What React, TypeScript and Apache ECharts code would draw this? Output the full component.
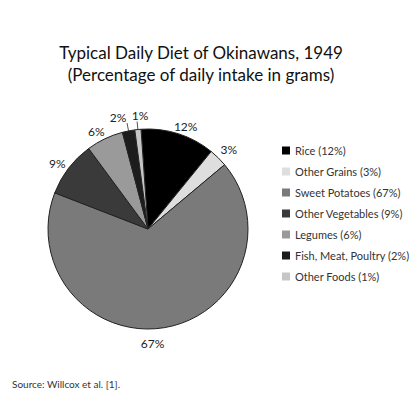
import React, { useEffect, useRef } from "react";
import * as echarts from "echarts";

const categories = [
  "Rice",
  "Other Grains",
  "Sweet Potatoes",
  "Other Vegetables",
  "Legumes",
  "Fish, Meat, Poultry",
  "Other Foods",
];
const percentages = [12, 3, 67, 9, 6, 2, 1];
const sliceColors = ["#000000", "#dedede", "#7a7a7a", "#3a3a3a", "#9a9a9a", "#1c1c1c", "#c6c6c6"];
const titleLines = ["Typical Daily Diet of Okinawans, 1949", "(Percentage of daily intake in grams)"];
const sourceText = "Source: Willcox et al. [1].";

const FONT = "Lato, 'Noto Sans', sans-serif";

// small nudges of percentage labels (dx, dy) by slice index
const labelNudges: Record<number, [number, number]> = {
  1: [0, -3],
  2: [-18, 8],
  5: [-4, 0],
  6: [8, 0],
};

export default function App() {
  const ref = useRef<HTMLDivElement>(null);
  useEffect(() => {
    if (!ref.current) return;
    const chart = echarts.init(ref.current, undefined, { renderer: "svg" });
    const data = categories.map((name, i) => ({
      name,
      value: percentages[i],
      itemStyle: { color: sliceColors[i] },
      labelLine: { show: percentages[i] <= 2, length: 8, length2: 0 },
    }));
    chart.setOption({
      animation: false,
      backgroundColor: "#ffffff",
      title: {
        text: titleLines.join("\n"),
        left: 196,
        textAlign: "center",
        top: 36,
        textStyle: { fontFamily: FONT, fontSize: 17, fontWeight: "normal", color: "#111", lineHeight: 22 },
      },
      legend: {
        orient: "vertical",
        left: 277,
        top: 139,
        icon: "rect",
        itemWidth: 8,
        itemHeight: 8,
        itemGap: 8,
        selectedMode: false,
        data: categories,
        itemStyle: { borderWidth: 0 },
        formatter: (name: string) => `${name} (${percentages[categories.indexOf(name)]}%)`,
        textStyle: { fontFamily: FONT, fontSize: 11, color: "#333", lineHeight: 13 },
      },
      graphic: [
        {
          type: "text",
          left: 12,
          top: 379,
          style: { text: sourceText, fontFamily: FONT, fontSize: 10, fill: "#333" },
        },
      ],
      series: [
        {
          type: "pie",
          center: [148, 229],
          radius: 100,
          startAngle: 94,
          clockwise: true,
          avoidLabelOverlap: false,
          itemStyle: { borderColor: "#222", borderWidth: 1 },
          label: {
            show: true,
            position: "outside",
            formatter: "{c}%",
            fontFamily: FONT,
            fontSize: 12,
            color: "#222",
          },
          labelLine: { length: 12, length2: 0, lineStyle: { color: "#555", width: 1 } },
          labelLayout: (params: any) => {
            const i = params.dataIndex;
            const small = percentages[i] <= 2;
            const [dx, dy] = labelNudges[i] || [0, 0];
            return { align: "center", verticalAlign: small ? "bottom" : "middle", dx, dy };
          },
          emphasis: { disabled: true },
          data,
        },
      ],
    });
    return () => chart.dispose();
  }, []);
  return (
    <div
      ref={ref}
      style={{ position: "absolute", left: 0, top: 0, width: 415, height: 405 }}
    />
  );
}
